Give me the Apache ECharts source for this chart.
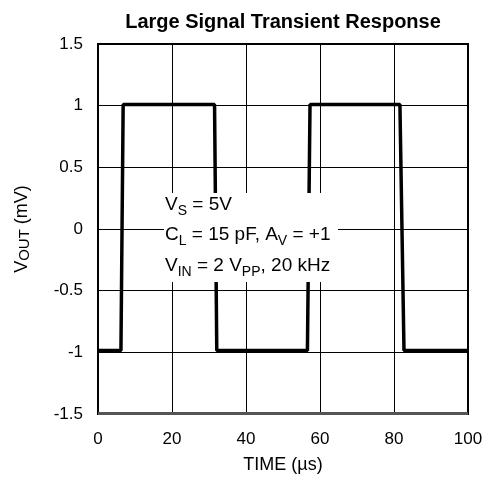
<!DOCTYPE html>
<html>
<head>
<meta charset="utf-8">
<script src="https://cdn.jsdelivr.net/npm/echarts@6/dist/echarts.min.js"></script>
<style>html,body{margin:0;padding:0;background:#fff}#c{width:489px;height:483px}</style>
</head>
<body>
<div id="c"></div>
<script>
var titleText = 'Large Signal Transient Response';
var xTicks = [0, 20, 40, 60, 80, 100];
var yTicks = [-1.5, -1, -0.5, 0, 0.5, 1, 1.5];
var timeUs = [0, 6.2, 6.8, 31.5, 32.1, 56.6, 57.3, 81.6, 82.7, 100];
var voutMv = [-0.985, -0.985, 1.01, 1.01, -0.985, -0.985, 1.01, 1.01, -0.985, -0.985];
var noteLines = ['{n|V}{s|S}{n| = 5V}', '{n|C}{s|L}{n| = 15 pF, A}{s|V}{n| = +1}', '{n|V}{s|IN}{n| = 2 V}{s|PP}{n|, 20 kHz}'];

var FONT = '"Liberation Sans", Arial, sans-serif';
var chart = echarts.init(document.getElementById('c'), null, {renderer: 'canvas'});
var pts = timeUs.map(function (t, i) { return [t, voutMv[i]]; });
var rich = {
  n: {fontSize: 19, fontFamily: FONT, color: '#000', lineHeight: 22, verticalAlign: 'top'},
  s: {fontSize: 14, fontFamily: FONT, color: '#000', verticalAlign: 'top', padding: [9, 0, 0, 0]}
};
chart.setOption({
  animation: false,
  title: {text: titleText, left: 278, top: 7, textAlign: 'center',
    textStyle: {fontSize: 20, fontWeight: 'bold', fontFamily: FONT, color: '#000'}},
  grid: {left: 98, right: 21, top: 44, bottom: 69, show: false},
  xAxis: {type: 'value', min: 0, max: 100, interval: 20,
    name: 'TIME (µs)', nameLocation: 'middle', nameGap: 42,
    nameTextStyle: {fontSize: 18, fontFamily: FONT, color: '#000'},
    axisLine: {show: false}, axisTick: {show: false},
    axisLabel: {fontSize: 17, fontFamily: FONT, color: '#000', margin: 17},
    splitLine: {show: true, lineStyle: {color: '#000', width: 1}}},
  yAxis: {type: 'value', min: -1.5, max: 1.5, interval: 0.5,
    name: 'V{s|OUT} (mV)', nameLocation: 'middle', nameGap: 66, nameRotate: 90,
    nameTextStyle: {fontSize: 18, fontFamily: FONT, color: '#000',
      rich: {s: {fontSize: 15, fontFamily: FONT, color: '#000', verticalAlign: 'top', padding: [5, 0, 0, 0]}}},
    axisLine: {show: false}, axisTick: {show: false},
    axisLabel: {fontSize: 17, fontFamily: FONT, color: '#000', margin: 15,
      formatter: function (v) { return String(v); }},
    splitLine: {show: true, lineStyle: {color: '#000', width: 1}}},
  series: [{type: 'line', data: pts, symbol: 'none', z: 3,
    lineStyle: {color: '#000', width: 3.5}}],
  graphic: [
    {type: 'rect', z: 100, shape: {x: 164, y: 193, width: 174, height: 89}, style: {fill: '#fff'}},
    {type: 'rect', z: 101, shape: {x: 98, y: 44, width: 370, height: 370}, style: {fill: 'none', stroke: '#000', lineWidth: 2}},
    {type: 'rect', z: 102, shape: {x: 98, y: 412, width: 370, height: 3}, style: {fill: '#555', stroke: null}},
    {type: 'text', z: 103, left: 165, top: 195, style: {text: noteLines[0], rich: rich}},
    {type: 'text', z: 103, left: 165, top: 225, style: {text: noteLines[1], rich: rich}},
    {type: 'text', z: 103, left: 165, top: 256, style: {text: noteLines[2], rich: rich}}
  ]
});
</script>
</body>
</html>
